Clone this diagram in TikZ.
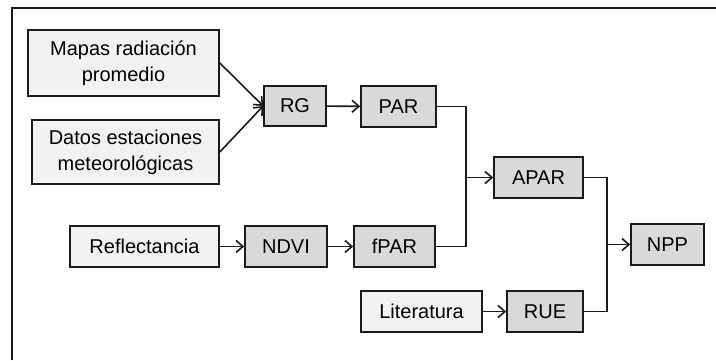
\documentclass[tikz,border=0pt]{standalone}
\usepackage{fontspec}
\setmainfont{Liberation Sans}
\usepackage{xcolor}
\usetikzlibrary{arrows.meta,positioning}
\definecolor{lightbox}{HTML}{F2F2F2}
\definecolor{darkbox}{HTML}{D9D9D9}
\definecolor{edge}{HTML}{1A1A1A}

\begin{document}
\begin{tikzpicture}[
  x=0.5pt,y=-0.5pt,
  box/.style={draw=edge,line width=0.8pt,fill=lightbox,align=center,inner sep=0pt,
    minimum height=20.5pt,font=\fontsize{10}{13}\selectfont},
  stage/.style={box,fill=darkbox},
  arr/.style={-{Straight Barb[length=3.5pt,width=6pt]},line width=0.8pt,draw=edge},
  link/.style={line width=0.8pt,draw=edge}
]
\useasboundingbox (0,0) rectangle (716,360);
\draw[line width=0.8pt,draw=edge] (12,360) -- (12,8) -- (716,8);
% inputs
\node[box,minimum width=95.5pt,minimum height=33pt] (mapas) at (123.5,63) {Mapas radiación\\promedio};
\node[box,minimum width=93.5pt,minimum height=32pt] (datos) at (125.5,152) {Datos estaciones\\meteorológicas};
\node[box,minimum width=74.5pt] (refl) at (144.5,246.5) {Reflectancia};
\node[box,minimum width=60.5pt] (lit) at (421.5,311.5) {Literatura};
% derived variables
\node[stage,minimum width=31pt,minimum height=20pt] (rg) at (295,106) {RG};
\node[stage,minimum width=37.5pt] (par) at (398.5,106.5) {PAR};
\node[stage,minimum width=41pt] (ndvi) at (286,246.5) {NDVI};
\node[stage,minimum width=40.5pt] (fpar) at (394.5,246.5) {fPAR};
\node[stage,minimum width=44.5pt] (apar) at (538.5,177.5) {APAR};
\node[stage,minimum width=38pt] (rue) at (545,311.5) {RUE};
\node[stage,minimum width=36.5pt] (npp) at (667.5,244.5) {NPP};
% junctions
\coordinate (j1) at (466,177.5);
\coordinate (j2) at (607,244.5);
\draw[arr] (mapas.east) -- (rg.west);
\draw[arr] (datos.east) -- (rg.west);
\draw[arr] (rg) -- (par);
\draw[arr] (refl) -- (ndvi);
\draw[arr] (ndvi) -- (fpar);
\draw[arr] (lit) -- (rue);
\draw[link] (par.east) -| (j1) |- (fpar.east);
\draw[arr] (j1) -- (apar.west);
\draw[link] (apar.east) -| (j2) |- (rue.east);
\draw[arr] (j2) -- (npp.west);
\end{tikzpicture}
\end{document}
